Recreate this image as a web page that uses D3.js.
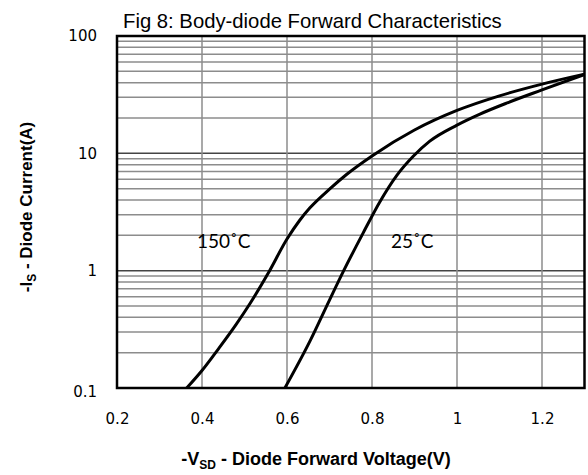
<!DOCTYPE html>
<html lang="en">
<head>
<meta charset="utf-8">
<title>Body-diode Forward Characteristics</title>
<script src="https://d3js.org/d3.v7.min.js"></script>
<style>
  body { margin: 0; background: #fff; }
  svg { display: block; }
</style>
</head>
<body>
<svg id="chart" width="588" height="475"></svg>
<script>
// curve readings (V, A)
var v150 = [0.364, 0.40, 0.44, 0.48, 0.513, 0.556, 0.60, 0.63, 0.654, 0.70, 0.74, 0.80, 0.90, 1.0, 1.1, 1.2, 1.3];
var i150 = [0.1, 0.141, 0.219, 0.347, 0.525, 0.955, 1.86, 2.69, 3.43, 4.95, 6.6, 9.5, 15.8, 23.2, 30.9, 38.9, 47.3];
var v25 = [0.595, 0.654, 0.70, 0.732, 0.779, 0.819, 0.858, 0.897, 0.936, 1.0, 1.054, 1.118, 1.2, 1.3];
var i25 = [0.1, 0.251, 0.562, 0.977, 2.09, 3.89, 6.46, 9.44, 12.7, 17.4, 21.6, 26.9, 34.7, 47];
var xTicks = [0.2, 0.4, 0.6, 0.8, 1, 1.2];
var yTicks = [0.1, 1, 10, 100];

var svg = d3.select("#chart");
var plotL = 117, plotR = 584.5, plotT = 36, plotB = 388;

var x = d3.scaleLinear().domain([0.2, 1.3]).range([plotL, plotR]);
var y = d3.scaleLog().domain([0.1, 100]).range([plotB, plotT]);

// minor horizontal grid
var minor = [];
[0.1, 1, 10].forEach(function (d) {
  for (var k = 2; k <= 9; k++) minor.push(d * k);
});
svg.append("g").selectAll("line").data(minor).join("line")
  .attr("x1", plotL).attr("x2", plotR)
  .attr("y1", function (d) { return y(d); }).attr("y2", function (d) { return y(d); })
  .attr("stroke", "#8c8c8c").attr("stroke-width", 1.5);

svg.append("g").selectAll("line").data([1, 10]).join("line")
  .attr("x1", plotL).attr("x2", plotR)
  .attr("y1", function (d) { return y(d); }).attr("y2", function (d) { return y(d); })
  .attr("stroke", "#444").attr("stroke-width", 1.5);

svg.append("g").selectAll("line").data(xTicks.slice(1)).join("line")
  .attr("y1", plotT).attr("y2", plotB)
  .attr("x1", function (d) { return x(d); }).attr("x2", function (d) { return x(d); })
  .attr("stroke", "#8c8c8c").attr("stroke-width", 1.5);

// curves
var line = d3.line()
  .x(function (d) { return x(d[0]); })
  .y(function (d) { return y(d[1]); })
  .curve(d3.curveMonotoneX);

svg.append("clipPath").attr("id", "clip").append("rect")
  .attr("x", plotL).attr("y", plotT).attr("width", plotR - plotL).attr("height", plotB - plotT);

[[v150, i150], [v25, i25]].forEach(function (s) {
  svg.append("path")
    .datum(d3.zip(s[0], s[1]))
    .attr("clip-path", "url(#clip)")
    .attr("d", line)
    .attr("fill", "none")
    .attr("stroke", "#000")
    .attr("stroke-width", 3);
});

// frame
svg.append("rect")
  .attr("x", plotL).attr("y", plotT).attr("width", plotR - plotL).attr("height", plotB - plotT)
  .attr("fill", "none").attr("stroke", "#000").attr("stroke-width", 2.5);

// axes
var xAxis = svg.append("g").attr("transform", "translate(0," + plotB + ")")
  .call(d3.axisBottom(x).tickValues(xTicks).tickSize(0).tickPadding(25)
    .tickFormat(function (d) { return String(d); }));
var yAxis = svg.append("g").attr("transform", "translate(" + plotL + ",0)")
  .call(d3.axisLeft(y).tickValues(yTicks).tickSize(0).tickPadding(20)
    .tickFormat(function (d) { return String(d); }));
[xAxis, yAxis].forEach(function (g) {
  g.select(".domain").remove();
  g.selectAll("text")
    .attr("font-family", "DejaVu Sans").attr("font-size", 15).attr("fill", "#000");
});
yAxis.selectAll("text").filter(function (d) { return d === 0.1; }).attr("dy", "0.55em");

// title
svg.append("text").attr("x", 123).attr("y", 28)
  .attr("font-family", "Liberation Sans, Arial").attr("font-size", 20.3)
  .text("Fig 8: Body-diode Forward Characteristics");

// curve labels
svg.append("text").attr("x", 197).attr("y", 248)
  .attr("font-family", "Lato").attr("font-size", 19)
  .text("150˚C");
svg.append("text").attr("x", 391).attr("y", 248)
  .attr("font-family", "Lato").attr("font-size", 19)
  .text("25˚C");

// axis titles
var xt = svg.append("text").attr("x", 316).attr("y", 465).attr("text-anchor", "middle")
  .attr("font-family", "Liberation Sans, Arial").attr("font-weight", "bold").attr("font-size", 18);
xt.append("tspan").text("-V");
xt.append("tspan").attr("font-size", 12).attr("dy", 4).text("SD");
xt.append("tspan").attr("dy", -4).text(" - Diode Forward Voltage(V)");

var yt = svg.append("text")
  .attr("transform", "translate(32,207) rotate(-90)").attr("text-anchor", "middle")
  .attr("font-family", "Liberation Sans, Arial").attr("font-weight", "bold").attr("font-size", 17);
yt.append("tspan").text("-I");
yt.append("tspan").attr("font-size", 12).attr("dy", 4).text("S");
yt.append("tspan").attr("dy", -4).text(" - Diode Current(A)");
</script>
</body>
</html>
